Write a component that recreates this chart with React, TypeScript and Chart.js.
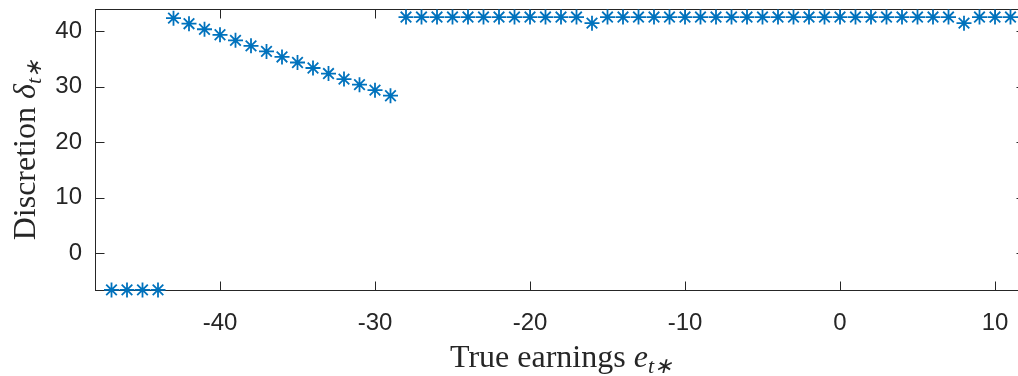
import React, { useEffect, useRef } from 'react';
import { Chart, registerables } from 'chart.js';

Chart.register(...registerables);

// ---- data ----
const xValues = [
  -47, -46, -45, -44,
  -43, -42, -41, -40, -39, -38, -37, -36, -35, -34, -33, -32, -31, -30, -29,
  -28, -27, -26, -25, -24, -23, -22, -21, -20, -19, -18, -17, -16, -15, -14, -13,
  -12, -11, -10, -9, -8, -7, -6, -5, -4, -3, -2, -1, 0, 1, 2, 3, 4, 5, 6, 7, 8, 9, 10, 11,
];
const yValues = [
  -6.65, -6.65, -6.65, -6.65,
  42.4, 41.4, 40.4, 39.4, 38.4, 37.4, 36.4, 35.4, 34.4, 33.4, 32.4, 31.4, 30.4, 29.4, 28.4,
  42.6, 42.6, 42.6, 42.6, 42.6, 42.6, 42.6, 42.6, 42.6, 42.6, 42.6, 42.6, 41.5, 42.6, 42.6, 42.6,
  42.6, 42.6, 42.6, 42.6, 42.6, 42.6, 42.6, 42.6, 42.6, 42.6, 42.6, 42.6, 42.6, 42.6, 42.6, 42.6,
  42.6, 42.6, 42.6, 42.6, 41.5, 42.6, 42.6, 42.6,
];
const xTickValues = [-40, -30, -20, -10, 0, 10];
const yTickValues = [0, 10, 20, 30, 40];
const xLimits = [-48, 12];
const yLimits = [-6.85, 44];
const xTitleText = 'True earnings ';
const xTitleSymbol = 'e';
const yTitleText = 'Discretion ';
const yTitleSymbol = 'δ';
const subscriptText = 't∗';

const AXIS_COLOR = '#262626';
const SERIES_COLOR = '#0072BD';
const SERIF = '"Liberation Serif", "Times New Roman", serif';
const CANVAS_W = 1040;
const CANVAS_H = 376;

type Part = { text: string; font: string; dy: number };

function drawParts(ctx: CanvasRenderingContext2D, cx: number, baseY: number, parts: Part[]) {
  let total = 0;
  const widths: number[] = [];
  for (const p of parts) {
    ctx.font = p.font;
    const w = ctx.measureText(p.text).width;
    widths.push(w);
    total += w;
  }
  let x = cx - total / 2;
  ctx.textAlign = 'left';
  ctx.textBaseline = 'alphabetic';
  parts.forEach((p, i) => {
    ctx.font = p.font;
    ctx.fillText(p.text, x, baseY + p.dy);
    x += widths[i];
  });
}

const boxPlugin = {
  id: 'boxTicks',
  beforeDatasetsDraw(chart: any) {
    const { ctx, chartArea, scales } = chart;
    const { left, right, top, bottom } = chartArea;
    const L = Math.round(left) - 0.5;
    const R = Math.round(right) - 0.5;
    const T = Math.round(top) + 0.5;
    const B = Math.round(bottom) - 0.5;
    ctx.save();
    ctx.strokeStyle = AXIS_COLOR;
    ctx.lineWidth = 1;
    ctx.strokeRect(L, T, R - L, B - T);
    const len = 9;
    ctx.beginPath();
    for (const v of xTickValues) {
      const px = Math.round(scales.x.getPixelForValue(v)) + 0.5;
      ctx.moveTo(px, B);
      ctx.lineTo(px, B - len);
      ctx.moveTo(px, T);
      ctx.lineTo(px, T + len);
    }
    for (const v of yTickValues) {
      const py = Math.round(scales.y.getPixelForValue(v)) + 0.5;
      ctx.moveTo(L, py);
      ctx.lineTo(L + len, py);
      ctx.moveTo(R, py);
      ctx.lineTo(R - len, py);
    }
    ctx.stroke();
    ctx.restore();
  },
  afterDraw(chart: any) {
    const { ctx, chartArea } = chart;
    const { left, right, top, bottom } = chartArea;
    const size = 32;
    const subSize = 22;
    const main = `${size}px ${SERIF}`;
    const ital = `italic ${size}px ${SERIF}`;
    const sub = `italic ${subSize}px ${SERIF}`;
    ctx.save();
    ctx.fillStyle = AXIS_COLOR;
    // x title
    drawParts(ctx, (left + right) / 2, 367, [
      { text: xTitleText, font: main, dy: 0 },
      { text: xTitleSymbol, font: ital, dy: 0 },
      { text: subscriptText, font: sub, dy: 6 },
    ]);
    // y title
    ctx.translate(35, (top + bottom) / 2);
    ctx.rotate(-Math.PI / 2);
    drawParts(ctx, 0, 0, [
      { text: yTitleText, font: main, dy: 0 },
      { text: yTitleSymbol, font: ital, dy: 0 },
      { text: subscriptText, font: sub, dy: 6 },
    ]);
    ctx.restore();
  },
};

export default function App() {
  const ref = useRef<HTMLCanvasElement>(null);
  useEffect(() => {
    if (!ref.current) return;
    const points = xValues.map((x, i) => ({ x, y: yValues[i] }));
    const tickFont = { family: '"Liberation Sans", Arial, sans-serif', size: 24 };
    const chart = new Chart(ref.current, {
      type: 'scatter',
      data: {
        datasets: [
          {
            data: points,
            showLine: false,
            pointStyle: 'star',
            pointRadius: 7.5,
            pointHoverRadius: 7.5,
            pointBorderWidth: 1.8,
            borderColor: SERIES_COLOR,
            backgroundColor: SERIES_COLOR,
            clip: false as any,
          },
        ],
      },
      options: {
        animation: false,
        responsive: false,
        maintainAspectRatio: false,
        devicePixelRatio: 1,
        layout: { padding: { left: 0, right: 14, top: 9, bottom: 0 } },
        plugins: { legend: { display: false }, tooltip: { enabled: false } },
        events: [],
        scales: {
          x: {
            type: 'linear',
            position: 'bottom',
            min: xLimits[0],
            max: xLimits[1],
            afterBuildTicks: (s: any) => {
              s.ticks = xTickValues.map((v) => ({ value: v }));
            },
            afterFit: (s: any) => {
              s.height = 85;
              s.paddingLeft = 0;
              s.paddingRight = 0;
              s.paddingTop = 0;
              s.paddingBottom = 0;
            },
            ticks: {
              font: tickFont,
              color: AXIS_COLOR,
              padding: 18,
              maxRotation: 0,
              autoSkip: false,
            },
            grid: { display: false, drawTicks: false },
            border: { display: false },
          },
          y: {
            type: 'linear',
            min: yLimits[0],
            max: yLimits[1],
            afterBuildTicks: (s: any) => {
              s.ticks = yTickValues.map((v) => ({ value: v }));
            },
            afterFit: (s: any) => {
              s.width = 96;
              s.paddingLeft = 0;
              s.paddingRight = 0;
              s.paddingTop = 0;
              s.paddingBottom = 0;
            },
            ticks: {
              font: tickFont,
              color: AXIS_COLOR,
              padding: 14,
              autoSkip: false,
            },
            grid: { display: false, drawTicks: false },
            border: { display: false },
          },
        },
      },
      plugins: [boxPlugin],
    });
    return () => chart.destroy();
  }, []);
  return (
    <div
      style={{
        position: 'fixed',
        left: 0,
        top: 0,
        width: 1018,
        height: 376,
        overflow: 'hidden',
        background: '#fff',
      }}
    >
      <div style={{ position: 'relative', width: CANVAS_W, height: CANVAS_H }}>
        <canvas
          ref={ref}
          width={CANVAS_W}
          height={CANVAS_H}
          style={{ display: 'block', width: CANVAS_W, height: CANVAS_H }}
        />
      </div>
    </div>
  );
}
